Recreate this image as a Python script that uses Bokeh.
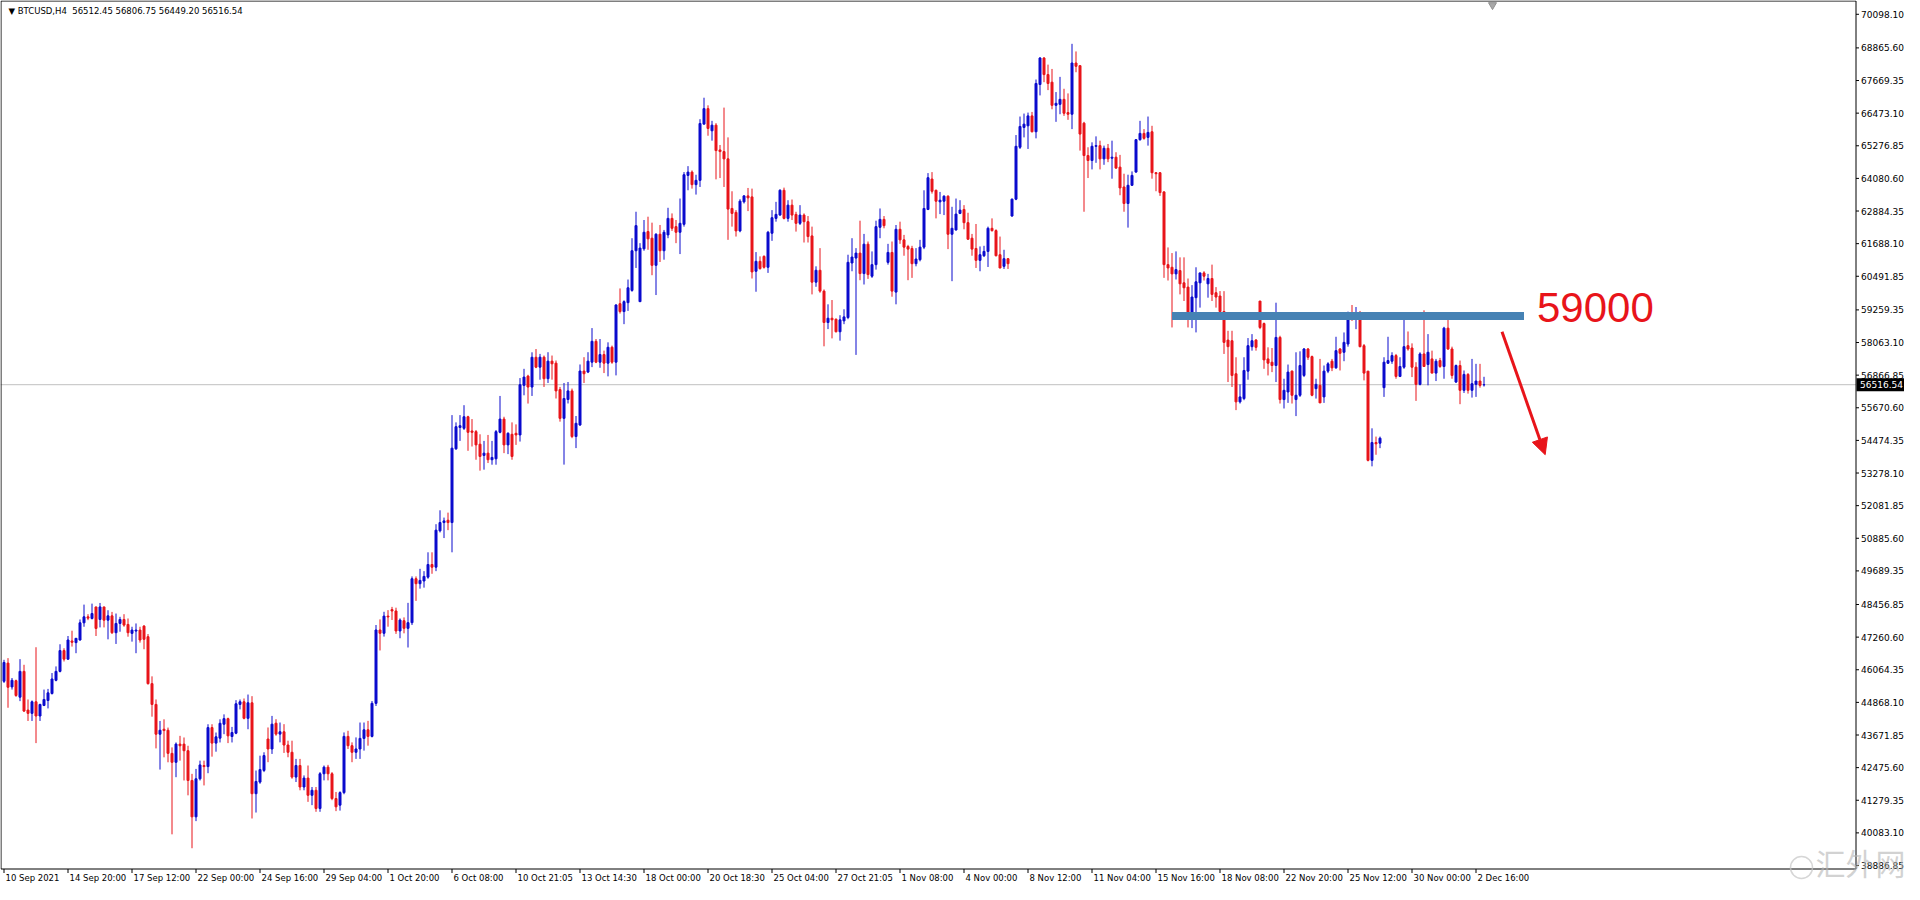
from bokeh.plotting import figure
from bokeh.models import Range1d, Label, Arrow, NormalHead, ColumnDataSource
from bokeh.embed import file_html
from bokeh.resources import INLINE
from bokeh.core.properties import value

# ---------------- data ----------------
SYMBOL = "BTCUSD,H4"
LAST_BAR = [56512.45, 56806.75, 56449.20, 56516.54]   # O H L C of the last bar

OPEN = [
 45641, 46308, 45435, 45665, 45059, 46005, 44587, 44466, 44890, 44369,
 44756, 44938, 45193, 45678, 46005, 46768, 46453, 47120, 47059, 47156,
 47786, 48005, 47944, 48368, 47908, 48368, 47883, 48041, 47423, 47762,
 47908, 47726, 47399, 47483, 47520, 47665, 47277, 45556, 44793, 43702,
 43884, 43847, 42999, 42672, 43338, 43338, 43096, 42005, 40672, 42066,
 42551, 42514, 43944, 43375, 43557, 44066, 44272, 43617, 43738, 44793,
 44890, 44284, 44853, 41520, 41945, 42372, 43524, 43160, 44105, 43705,
 43790, 43305, 43039, 42130, 42554, 41766, 42093, 41463, 41645, 40978,
 42251, 42493, 42251, 41342, 41100, 41560, 43621, 43281, 43039, 43160,
 43548, 43863, 43621, 44833, 47523, 47402, 48032, 48270, 48220, 47487,
 47863, 47584, 47790, 49402, 49220, 49320, 49460, 49923, 49826, 51159,
 51462, 51547, 51462, 54165, 54947, 54917, 55341, 54820, 54795, 54335,
 53923, 54007, 53765, 53800, 54771, 55256, 54310, 54698, 54735, 54674,
 56492, 56831, 56431, 57522, 57160, 57525, 56737, 57380, 57307, 56337,
 55283, 55974, 56289, 54616, 55040, 57016, 56980, 57343, 58107, 57343,
 57622, 57307, 57889, 57343, 59488, 59198, 59525, 59973, 61428, 59561,
 61500, 62131, 61888, 60894, 62034, 61428, 62009, 62615, 62312, 62106,
 62397, 64191, 64312, 63852, 64009, 66070, 66639, 65827, 66033, 65124,
 65064, 64797, 62979, 62834, 62155, 63221, 63440, 63403, 60676, 61040,
 61222, 60822, 62070, 62615, 62737, 63645, 62615, 63100, 62760, 62433,
 62736, 62494, 61972, 60276, 60712, 59948, 58797, 58954, 58918, 58458,
 58857, 58979, 60979, 61160, 61342, 60591, 61669, 60494, 60918, 62288,
 62578, 61003, 61366, 59912, 62215, 61827, 61584, 61512, 60954, 61100,
 61560, 62942, 64057, 63645, 63221, 63245, 63427, 62033, 62191, 62797,
 62942, 62457, 61888, 61512, 61076, 61245, 61403, 62251, 62166, 61282,
 60857, 61136, 62701, 63319, 65222, 65949, 66009, 66373, 65791, 67524,
 68494, 67888, 67609, 66761, 66797, 66979, 66494, 66434, 68312, 68215,
 66106, 64919, 64737, 65258, 65282, 64797, 65185, 64822, 64858, 64494,
 63767, 63161, 63828, 64313, 65500, 65731, 65585, 65791, 64288, 64288,
 63585, 60919, 60822, 60580, 60701, 60252, 60095, 59004, 59707, 60252,
 60616, 60216, 60410, 59889, 59768, 59200, 58153, 58129, 56917, 55887,
 56008, 57014, 57911, 58153, 59583, 58759, 57462, 57341, 57220, 58250,
 55972, 56250, 57014, 55972, 56129, 56856, 57826, 57547, 56372, 56493,
 56069, 57014, 57378, 57135, 57826, 57705, 58008, 59159, 58917, 59038,
 57947, 57014, 53742, 54396, 54372, 56408, 57305, 57378, 57584, 56820,
 57159, 57947, 57862, 57159, 56529, 57644, 57256, 57462, 56941, 57402,
 57184, 58590, 57826, 56614, 57220, 56311, 56893, 56311, 56529, 56650,
 LAST_BAR[0],
]

HIGH = [
 46429, 46490, 45762, 45702, 46453, 46247, 44975, 44938, 46890, 44817,
 45338, 45362, 45944, 46187, 46999, 46853, 47302, 47496, 47217, 47908,
 48453, 48102, 48489, 48368, 48514, 48368, 48247, 48186, 48126, 48005,
 48102, 47944, 47641, 47762, 47641, 47702, 47374, 45823, 44975, 44187,
 44247, 43944, 43217, 43399, 43641, 43581, 43278, 42248, 42429, 42732,
 42732, 44066, 44066, 43763, 44247, 44429, 44308, 43969, 44950, 44975,
 45011, 45156, 45096, 42369, 42914, 43039, 43948, 44372, 44251, 44130,
 44069, 43463, 43463, 42796, 42796, 42190, 42554, 41766, 41766, 42312,
 42554, 42578, 42312, 41584, 41608, 43766, 43827, 43402, 43584, 44130,
 44130, 44190, 44917, 47705, 47911, 48190, 48250, 48370, 48340, 47947,
 47984, 48517, 49487, 49487, 49765, 49680, 50371, 50371, 51402, 51911,
 51644, 51826, 55401, 55135, 55401, 55765, 55377, 55256, 54856, 54698,
 54456, 54674, 54456, 54856, 56104, 55341, 54771, 55135, 55062, 56759,
 57098, 56880, 57704, 57825, 57646, 57586, 57707, 57586, 57404, 56434,
 56580, 56616, 56374, 55368, 57258, 57525, 57707, 58592, 58192, 58192,
 57767, 58070, 57949, 59464, 60046, 59610, 60373, 61888, 62858, 61706,
 62555, 62676, 62458, 62070, 62373, 62191, 63003, 62797, 62555, 63343,
 64312, 64530, 64373, 64215, 66251, 67039, 66760, 66191, 66106, 65306,
 66676, 65585, 63609, 62918, 63318, 63464, 63730, 63706, 61379, 61222,
 61258, 62155, 62918, 63221, 63682, 63742, 63281, 63306, 62857, 63100,
 62797, 62700, 62312, 60857, 61524, 60009, 59464, 59621, 58942, 59064,
 59282, 61282, 61888, 61524, 62530, 62045, 61766, 61403, 62530, 62978,
 62700, 61681, 61766, 62372, 62494, 62009, 61645, 61609, 61524, 61827,
 63645, 64275, 64312, 63669, 63584, 63463, 63463, 63039, 63342, 63281,
 63100, 62821, 62045, 62409, 61585, 61609, 62312, 62615, 62215, 61948,
 61464, 61160, 63343, 65670, 66349, 66458, 66494, 66518, 67706, 68530,
 68530, 68252, 68094, 67246, 67803, 67367, 67197, 69015, 68736, 68215,
 66155, 65222, 65403, 65622, 65464, 65282, 65343, 65464, 65040, 64943,
 64252, 64216, 64337, 65525, 66191, 65888, 66349, 66009, 64313, 64313,
 63610, 61549, 61343, 61404, 61186, 61186, 60410, 60168, 60822, 60616,
 60677, 60580, 60919, 60095, 59949, 59947, 58493, 58493, 57523, 56529,
 57523, 58226, 58371, 58190, 59583, 58796, 57887, 57862, 59523, 58311,
 56735, 57256, 57038, 57705, 57741, 57862, 57862, 57584, 56735, 57462,
 57220, 57341, 57462, 58274, 57862, 58432, 59196, 59438, 59365, 59220,
 58008, 57014, 54917, 54614, 54614, 57523, 58274, 57705, 57644, 57523,
 58953, 58468, 58032, 57341, 57705, 59244, 58371, 57765, 57462, 57499,
 58638, 59159, 57911, 57256, 57402, 57038, 56941, 57462, 57281, 57281,
 LAST_BAR[1],
]

LOW = [
 45581, 44672, 45338, 45072, 44914, 44514, 44187, 44187, 43375, 44187,
 44732, 44647, 45156, 45641, 45968, 46368, 46429, 46914, 46671, 47132,
 47641, 47883, 47908, 47302, 47617, 47617, 47180, 47374, 47011, 47459,
 47641, 47277, 47096, 46671, 47059, 46817, 45520, 44344, 43181, 42405,
 42854, 42672, 40030, 42126, 42732, 42005, 41460, 39521, 40514, 42005,
 41823, 42272, 42878, 43060, 43399, 43702, 43375, 43399, 43702, 44611,
 44247, 43884, 40611, 40830, 41884, 42312, 42675, 42978, 43645, 43402,
 43015, 42857, 42069, 41948, 41645, 41645, 41221, 41100, 40857, 40857,
 42009, 42009, 41282, 40881, 40900, 41500, 43160, 42675, 42796, 42796,
 43100, 43281, 43584, 44736, 46772, 47281, 47644, 47890, 47380, 47220,
 47400, 46881, 47705, 48590, 49038, 49075, 49402, 49584, 49680, 51099,
 50893, 51183, 50371, 54129, 54456, 54856, 54092, 54250, 53765, 53365,
 53401, 53644, 53583, 53583, 54735, 54007, 53971, 53765, 54310, 54432,
 56128, 55825, 56104, 57122, 56700, 56434, 56580, 56701, 56010, 55162,
 53586, 55828, 54556, 54192, 55004, 56580, 56943, 57161, 57307, 57137,
 56943, 56822, 57283, 56858, 59125, 58737, 59222, 59925, 60797, 59561,
 61428, 61464, 60531, 59804, 61016, 61100, 61888, 62155, 61706, 61306,
 62312, 63646, 63706, 63488, 63767, 66070, 65645, 65464, 64046, 64094,
 63767, 61828, 62312, 61949, 62106, 63161, 62882, 60410, 59925, 60737,
 60773, 60616, 61791, 62494, 62712, 62578, 62494, 62554, 62130, 62372,
 61730, 61730, 59827, 60106, 59888, 57924, 58555, 58215, 58434, 58131,
 58736, 58918, 60676, 57609, 60348, 60191, 60397, 60433, 60736, 61888,
 62251, 60918, 59742, 59464, 61681, 61245, 60348, 60433, 60857, 61039,
 61488, 62918, 63524, 62615, 62772, 62736, 61488, 60312, 62166, 62772,
 62215, 61827, 61245, 60797, 60676, 61197, 60833, 62130, 61221, 60785,
 60761, 60761, 62676, 63282, 65161, 65585, 65161, 65767, 65549, 67124,
 67609, 67318, 66615, 66155, 66434, 66373, 66228, 65888, 67973, 65100,
 62858, 64094, 64410, 64652, 64410, 64579, 64676, 64070, 64434, 63464,
 62858, 62276, 63804, 64288, 65464, 65500, 65282, 64070, 63610, 63440,
 60434, 60337, 58616, 60374, 59828, 59586, 58616, 58592, 58434, 59343,
 60337, 59707, 59586, 59343, 58980, 57644, 56614, 56432, 55584, 55826,
 55948, 56699, 57765, 57765, 58553, 57099, 56856, 56978, 56614, 55826,
 55644, 55850, 55826, 55366, 56069, 56796, 57426, 56093, 56008, 55850,
 55850, 56941, 57014, 57099, 57038, 57378, 57911, 58856, 58553, 57887,
 56675, 53705, 53523, 53948, 54190, 56069, 57281, 57281, 56735, 56796,
 57099, 57765, 56796, 55923, 56493, 57184, 56493, 56941, 56650, 57135,
 56735, 57790, 56735, 56578, 55802, 56214, 56190, 56044, 56069, 56408,
 LAST_BAR[2],
]

CLOSE = [
 46332, 45423, 45678, 45120, 46005, 44550, 44466, 44890, 44369, 44793,
 44975, 45217, 45726, 46005, 46768, 46453, 47156, 47071, 47217, 47786,
 48005, 47956, 48126, 47580, 48368, 47883, 48041, 47423, 47762, 47908,
 47702, 47423, 47520, 47520, 47156, 47180, 45556, 44793, 43702, 43847,
 43835, 42999, 42672, 43338, 43278, 43096, 42005, 40672, 42066, 42575,
 42514, 43944, 43375, 43605, 44102, 44272, 43641, 43763, 44817, 44890,
 44284, 44853, 41520, 41969, 42405, 42918, 43160, 44069, 43705, 43790,
 43305, 43039, 42130, 42554, 41766, 42093, 41463, 41645, 40978, 42251,
 42493, 42251, 41342, 41039, 41560, 43621, 43281, 43039, 43160, 43548,
 43863, 43621, 44833, 47523, 47402, 48032, 48000, 48220, 47487, 47887,
 47584, 47790, 49402, 49220, 49341, 49487, 49923, 49826, 51183, 51462,
 51523, 51462, 54189, 54977, 55013, 55341, 54771, 54771, 54310, 53886,
 54007, 53765, 53850, 54795, 55256, 54310, 54735, 53886, 54674, 56516,
 56795, 56431, 57522, 57159, 57525, 56737, 57380, 57283, 56289, 55283,
 56010, 56289, 54616, 55101, 57016, 56919, 57380, 58107, 57343, 57622,
 57307, 57889, 57343, 59440, 59198, 59561, 60070, 61428, 62349, 61525,
 62106, 61864, 60894, 62034, 61428, 62106, 62615, 62252, 62106, 62434,
 64215, 64312, 63852, 64009, 66094, 66639, 65912, 66033, 65100, 65064,
 64797, 62955, 62797, 62155, 63246, 63440, 63367, 60652, 61040, 60773,
 60822, 62106, 62640, 62761, 63646, 62615, 63100, 62736, 62433, 62736,
 62494, 61948, 60276, 60712, 59948, 58797, 58954, 58894, 58458, 58894,
 59003, 61003, 61197, 61342, 60591, 61669, 60554, 60918, 62312, 62578,
 62348, 61366, 59948, 62215, 61827, 61560, 61488, 60954, 61124, 61560,
 62978, 64106, 63609, 63245, 63281, 63427, 62033, 62251, 62772, 62918,
 62457, 61851, 61488, 61076, 61282, 61403, 62251, 62166, 61245, 60797,
 61136, 60954, 63319, 65258, 65985, 66070, 66373, 65791, 67561, 68494,
 67888, 67561, 66761, 66834, 66979, 66470, 66434, 68312, 68191, 65706,
 64919, 64737, 65258, 65282, 64797, 65185, 64797, 64858, 64458, 63731,
 63161, 63828, 64191, 65500, 65731, 65549, 65767, 64288, 64252, 63561,
 60919, 60798, 60580, 60737, 60216, 60071, 59040, 59731, 60289, 60616,
 60495, 60410, 59828, 59731, 59198, 58068, 57911, 56856, 55887, 56069,
 57038, 57947, 58129, 57887, 58614, 57426, 57305, 57220, 58250, 55972,
 56311, 56978, 56129, 56129, 57220, 57826, 57523, 56129, 56529, 55850,
 57014, 57281, 57135, 57765, 57668, 58068, 59159, 58917, 59038, 57911,
 56941, 53742, 54396, 54348, 54554, 57341, 57402, 57584, 56820, 57184,
 57911, 57826, 57159, 56529, 57644, 57184, 57705, 56941, 57378, 57184,
 58590, 57826, 56856, 57220, 56311, 56893, 56311, 56553, 56650, 56493,
 LAST_BAR[3],
]

PRICE_TICKS = [70098.10, 68865.60, 67669.35, 66473.10, 65276.85, 64080.60, 62884.35,
               61688.10, 60491.85, 59259.35, 58063.10, 56866.85, 55670.60, 54474.35,
               53278.10, 52081.85, 50885.60, 49689.35, 48456.85, 47260.60, 46064.35,
               44868.10, 43671.85, 42475.60, 41279.35, 40083.10, 38886.85]

DATE_LABELS = ["10 Sep 2021", "14 Sep 20:00", "17 Sep 12:00", "22 Sep 00:00", "24 Sep 16:00",
               "29 Sep 04:00", "1 Oct 20:00", "6 Oct 08:00", "10 Oct 21:05", "13 Oct 14:30",
               "18 Oct 00:00", "20 Oct 18:30", "25 Oct 04:00", "27 Oct 21:05", "1 Nov 08:00",
               "4 Nov 00:00", "8 Nov 12:00", "11 Nov 04:00", "15 Nov 16:00", "18 Nov 08:00",
               "22 Nov 20:00", "25 Nov 12:00", "30 Nov 00:00", "2 Dec 16:00"]
BARS_PER_LABEL = 16

LEVEL_PRICE = 59040          # drawn resistance band
LEVEL_TEXT = "59000"
LEVEL_BARS = (292, 380)
LEVEL_TEXT_POS = (383.25, 59364)
ARROW_FROM = (374.5, 58455)
ARROW_TO = (385.3, 53950)
WATERMARK = "汇外网"

# ---------------- styling / layout ----------------
BLUE = "#0A0ACD"
RED = "#E8141A"
BAND = "#4682B4"
FONT = "DejaVu Sans"

W, H = 1904, 884
BAR_PX = 4.0
X0 = -3.5 / BAR_PX           # bar 0 sits 3.5 px right of the chart edge
CHART_H = 868                # chart box height in px; the strip below holds the dates
AX = 1855.5                  # px position of the price-axis line
P_TOP, P_BOT = 70603.7, 38777.4
S = CHART_H / (P_TOP - P_BOT)  # px per price unit


def bx(px):      # px from the left -> bar units
    return X0 + px / BAR_PX


def py(pxy):     # px from the top -> price units
    return P_TOP - pxy / S


p = figure(width=W, height=H, x_range=Range1d(X0, bx(W)), y_range=Range1d(py(H), P_TOP),
           x_axis_location=None, y_axis_location=None, output_backend="svg",
           toolbar_location=None, min_border=0, outline_line_color=None,
           background_fill_color="white", border_fill_color="white")
p.xgrid.visible = False
p.ygrid.visible = False

# current price line (behind the candles)
p.segment(x0=[X0], y0=[LAST_BAR[3]], x1=[bx(AX)], y1=[LAST_BAR[3]],
          line_color="#C0C0C0", line_width=1, level="underlay")

# candles
n = len(OPEN)
assert len(HIGH) == n and len(LOW) == n and len(CLOSE) == n
src = ColumnDataSource(dict(
    x=list(range(n)), h=HIGH, l=LOW,
    top=[max(o, c) for o, c in zip(OPEN, CLOSE)],
    bot=[min(o, c) for o, c in zip(OPEN, CLOSE)],
    color=[BLUE if c >= o else RED for o, c in zip(OPEN, CLOSE)],
))
p.segment(x0="x", y0="l", x1="x", y1="h", line_color="color", line_width=1, source=src)
p.vbar(x="x", width=0.5, top="top", bottom="bot", fill_color="color",
       line_color="color", line_width=1, source=src)

# chart box
p.quad(left=[bx(0.5)], right=[bx(AX)], top=[py(0.5)], bottom=[py(CHART_H + 0.5)],
       fill_color=None, line_color="black", line_width=1)

# price axis: ticks and labels
p.segment(x0=[bx(AX)] * len(PRICE_TICKS), y0=PRICE_TICKS,
          x1=[bx(AX + 3)] * len(PRICE_TICKS), y1=PRICE_TICKS, line_color="black", line_width=1)
p.text(x=[bx(AX + 5)] * len(PRICE_TICKS), y=PRICE_TICKS,
       text=[f"{v:.2f}" for v in PRICE_TICKS], text_font=value(FONT),
       text_font_size=value("9px"), text_color="black", text_align="left",
       text_baseline="middle")

# current price box on the axis
p.quad(left=[bx(AX + 0.5)], right=[bx(W)], top=[LAST_BAR[3] + 6.5 / S],
       bottom=[LAST_BAR[3] - 6.5 / S], fill_color="black", line_color=None)
p.text(x=[bx(AX + 4)], y=[LAST_BAR[3]], text=[f"{LAST_BAR[3]:.2f}"], text_font=value(FONT),
       text_font_size=value("9px"), text_color="white", text_align="left",
       text_baseline="middle")

# time axis: tick marks at the labelled bars, labels start just right of them
tick_bars = [k * BARS_PER_LABEL for k in range(len(DATE_LABELS))]
p.segment(x0=tick_bars, y0=[py(CHART_H + 0.5)] * len(tick_bars), x1=tick_bars,
          y1=[py(CHART_H + 4.5)] * len(tick_bars), line_color="black", line_width=1)
p.text(x=[b + 1.5 / BAR_PX for b in tick_bars], y=[py(CHART_H + 4.5)] * len(tick_bars),
       text=DATE_LABELS, text_font=value(FONT), text_font_size=value("8.5px"),
       text_color="black", text_align="left", text_baseline="top")

# chart header
head = "\u25BC " + SYMBOL + "\u00a0\u00a0" + " ".join(f"{v:.2f}" for v in LAST_BAR)
p.text(x=[bx(8)], y=[py(10.7)], text=[head], text_font=value(FONT),
       text_font_size=value("8.5px"), text_color="black", text_align="left",
       text_baseline="middle")

# chart-shift marker
p.scatter(x=[bx(1492)], y=[py(4.5)], marker="inverted_triangle", size=8,
          fill_color="#A8A8A8", line_color="#909090")

# resistance band, label and arrow
p.segment(x0=[LEVEL_BARS[0]], y0=[LEVEL_PRICE], x1=[LEVEL_BARS[1]], y1=[LEVEL_PRICE],
          line_color=BAND, line_width=8, line_cap="butt")
p.add_layout(Label(x=LEVEL_TEXT_POS[0], y=LEVEL_TEXT_POS[1], text=LEVEL_TEXT,
                   text_font="Liberation Sans", text_font_size="42px", text_color=RED,
                   text_align="left", text_baseline="middle"))
p.add_layout(Arrow(x_start=ARROW_FROM[0], y_start=ARROW_FROM[1], x_end=ARROW_TO[0],
                   y_end=ARROW_TO[1], line_color=RED, line_width=3,
                   end=NormalHead(size=16, fill_color=RED, line_color=RED)))

# watermark
p.scatter(x=[bx(1801)], y=[py(867)], marker="circle", size=22, fill_color=None,
          line_color="#C4C4C4", line_width=1.5, line_alpha=0.7)
p.text(x=[bx(1815)], y=[py(883)], text=[WATERMARK], text_font=value("Noto Sans CJK SC"),
       text_font_size=value("30px"), text_color="#B4B4B4", text_alpha=0.6,
       text_align="left", text_baseline="bottom")

open("out.html", "w").write(file_html(p, INLINE))
